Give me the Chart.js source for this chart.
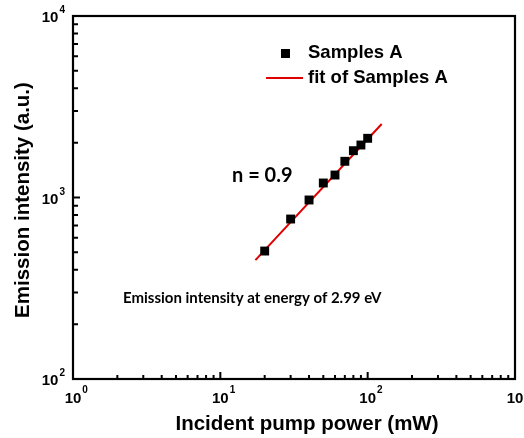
<!DOCTYPE html>
<html><head><meta charset="utf-8">
<script src="https://cdn.jsdelivr.net/npm/chart.js@4"></script>
<style>html,body{margin:0;padding:0;background:#fff}#wrap{width:524px;height:438px}</style>
</head><body><div id="wrap"><canvas id="c" width="524" height="438"></canvas></div>
<script>
// Data
const powerMW = [20, 30, 40, 50, 60, 70, 80, 90, 100];
const intensity = [507, 761, 969, 1202, 1330, 1583, 1811, 1946, 2119];
const fitPower = [17.3, 124.5];
const fitIntensity = [452, 2541];
const xDecades = [1, 10, 100, 1000];
const yDecades = [100, 1000, 10000];
const xExponents = ['0', '1', '2', '3'];
const yExponents = ['2', '3', '4'];
const seriesLabel = 'Samples A';
const fitLabel = 'fit of Samples A';
const xTitle = 'Incident pump power (mW)';
const yTitle = 'Emission intensity (a.u.)';
const slopeText = 'n = 0.9';
const noteText = 'Emission intensity at energy of 2.99 eV';

const ARIAL = '"Liberation Sans", Arial, sans-serif';
const CALIBRI = 'Lato, "Open Sans", sans-serif';

const decor = {
  id: 'decor',
  afterDraw(chart) {
    const ctx = chart.ctx;
    const a = chart.chartArea;
    const xs = chart.scales.x, ys = chart.scales.y;
    ctx.save();
    // frame
    ctx.strokeStyle = '#000';
    ctx.lineWidth = 2.2;
    ctx.strokeRect(a.left, a.top, a.right - a.left, a.bottom - a.top);
    // ticks (inward, bottom & left only)
    ctx.lineWidth = 2;
    ctx.beginPath();
    for (let i = 0; i < xDecades.length; i++) {
      const d = xDecades[i];
      const px = xs.getPixelForValue(d);
      ctx.moveTo(px, a.bottom); ctx.lineTo(px, a.bottom - 7);
      if (i < xDecades.length - 1) {
        for (let k = 2; k <= 9; k++) {
          const p = xs.getPixelForValue(d * k);
          ctx.moveTo(p, a.bottom); ctx.lineTo(p, a.bottom - 4);
        }
      }
    }
    for (let i = 0; i < yDecades.length; i++) {
      const d = yDecades[i];
      const py = ys.getPixelForValue(d);
      ctx.moveTo(a.left, py); ctx.lineTo(a.left + 7, py);
      if (i < yDecades.length - 1) {
        for (let k = 2; k <= 9; k++) {
          const p = ys.getPixelForValue(d * k);
          ctx.moveTo(a.left, p); ctx.lineTo(a.left + 5, p);
        }
      }
    }
    ctx.stroke();
    // tick labels
    ctx.fillStyle = '#000';
    const mainFont = 'bold 15px ' + ARIAL;
    const supFont = 'bold 10px ' + ARIAL;
    ctx.textBaseline = 'alphabetic';
    for (let i = 0; i < xDecades.length; i++) {
      const px = xs.getPixelForValue(xDecades[i]);
      ctx.font = mainFont;
      const w = ctx.measureText('10').width;
      ctx.textAlign = 'left';
      ctx.fillText('10', px - w / 2, a.bottom + 24);
      ctx.font = supFont;
      ctx.fillText(xExponents[i], px + w / 2 + 1, a.bottom + 14);
    }
    for (let i = 0; i < yDecades.length; i++) {
      const py = ys.getPixelForValue(yDecades[i]);
      ctx.font = supFont;
      const we = ctx.measureText(yExponents[i]).width;
      ctx.textAlign = 'right';
      ctx.fillText(yExponents[i], a.left - 8, py - 3);
      ctx.font = mainFont;
      ctx.fillText('10', a.left - 9 - we, py + 6);
    }
    // axis titles
    ctx.font = 'bold 20.5px ' + ARIAL;
    ctx.textAlign = 'center';
    ctx.textBaseline = 'middle';
    ctx.fillText(xTitle, 307, 424);
    ctx.save();
    ctx.translate(23, 200);
    ctx.rotate(-Math.PI / 2);
    ctx.fillText(yTitle, 0, 0);
    ctx.restore();
    // legend
    ctx.fillStyle = '#000';
    ctx.fillRect(281, 49, 9, 9);
    ctx.strokeStyle = '#e00000';
    ctx.lineWidth = 2;
    ctx.beginPath(); ctx.moveTo(266, 78); ctx.lineTo(303, 78); ctx.stroke();
    ctx.font = 'bold 18.5px ' + ARIAL;
    ctx.textAlign = 'left';
    ctx.fillText(seriesLabel, 308, 53);
    ctx.fillText(fitLabel, 308, 78);
    // annotations
    ctx.font = 'bold 20px ' + CALIBRI;
    ctx.fillText(slopeText, 232, 176);
    ctx.font = 'bold 15px ' + CALIBRI;
    ctx.fillText(noteText, 123, 298);
    ctx.restore();
  }
};

const pts = powerMW.map((x, i) => ({x, y: intensity[i]}));
const fitPts = fitPower.map((x, i) => ({x, y: fitIntensity[i]}));

new Chart(document.getElementById('c'), {
  type: 'scatter',
  data: {
    datasets: [
      { label: fitLabel, data: fitPts, showLine: true, borderColor: '#e00000', borderWidth: 2,
        pointRadius: 0, fill: false, order: 2 },
      { label: seriesLabel, data: pts, pointStyle: 'rect', pointRadius: 6.3,
        backgroundColor: '#000', borderColor: '#000', borderWidth: 0, order: 1 }
    ]
  },
  options: {
    responsive: false,
    animation: false,
    layout: { padding: { left: 73, right: 9, top: 16, bottom: 59 } },
    plugins: { legend: { display: false }, tooltip: { enabled: false } },
    scales: {
      x: { type: 'logarithmic', min: 1, max: 1000, display: false },
      y: { type: 'logarithmic', min: 100, max: 10000, display: false }
    }
  },
  plugins: [decor]
});
</script>
</body></html>
